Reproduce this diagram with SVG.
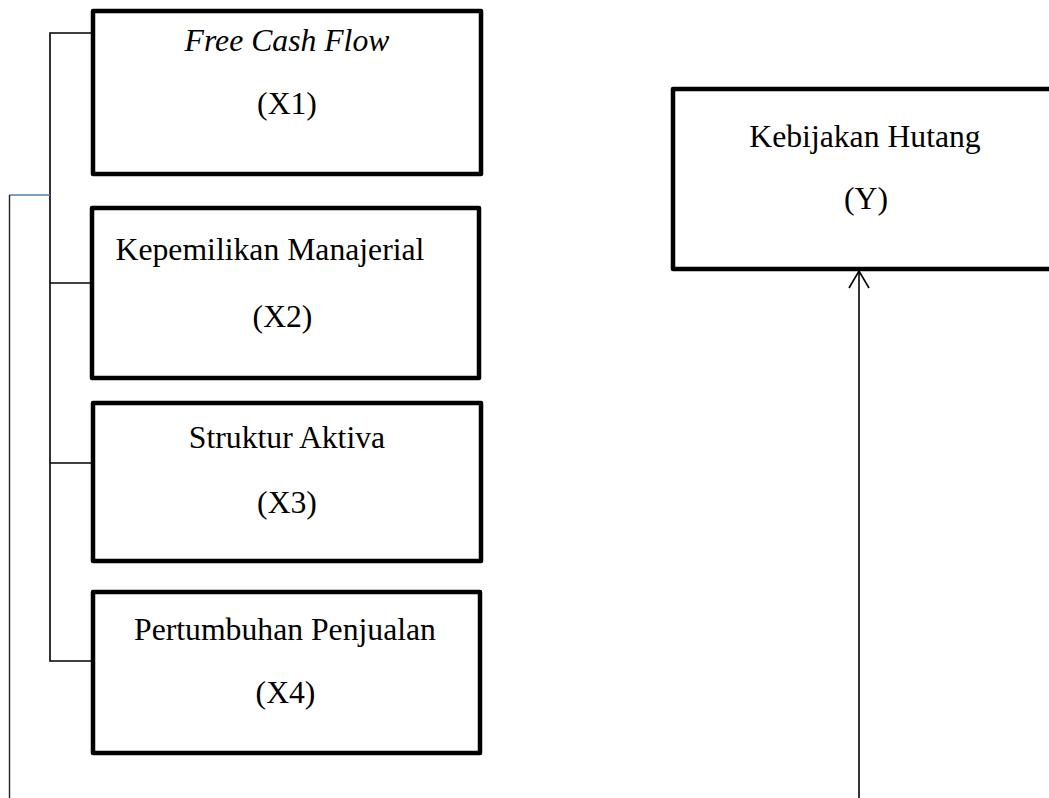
<svg xmlns="http://www.w3.org/2000/svg" width="1049" height="798" viewBox="0 0 1049 798">
<style>
.box{fill:#fff;stroke:#000;stroke-width:4.5;stroke-linejoin:round}
.t{font-family:"Liberation Serif","Times New Roman",serif;font-size:31.7px;fill:#000;text-anchor:middle}
.i{font-style:italic}
.c{fill:none;stroke:#000;stroke-width:1.6}
</style>
<rect width="1049" height="798" fill="#fff"/>
<g id="connectors">
<polyline class="c" points="93,33 50,33 50,661 93,661"/>
<line class="c" x1="50" y1="283" x2="92" y2="283"/>
<line class="c" x1="50" y1="463" x2="93" y2="463"/>
<line x1="50" y1="195" x2="9.5" y2="195" stroke="#4a7ebb" stroke-width="1.6"/>
<line x1="9.5" y1="195" x2="9.5" y2="798" stroke="#222" stroke-width="1.4"/>
<line class="c" x1="859" y1="798" x2="859" y2="272"/>
<polyline class="c" points="849,288 859,271 869,288"/>
</g>
<g id="x1">
<rect class="box" x="93" y="11" width="388" height="163"/>
<text class="t i" x="287" y="51">Free Cash Flow</text>
<text class="t" x="287" y="114">(X1)</text>
</g>
<g id="x2">
<rect class="box" x="92" y="208" width="387" height="170"/>
<text class="t" x="270" y="260">Kepemilikan Manajerial</text>
<text class="t" x="282.5" y="327">(X2)</text>
</g>
<g id="x3">
<rect class="box" x="93" y="403" width="388" height="158"/>
<text class="t" x="287" y="448">Struktur Aktiva</text>
<text class="t" x="287" y="513">(X3)</text>
</g>
<g id="x4">
<rect class="box" x="93" y="592" width="387" height="161"/>
<text class="t" x="285" y="640">Pertumbuhan Penjualan</text>
<text class="t" x="285.5" y="703">(X4)</text>
</g>
<g id="y">
<rect class="box" x="673" y="89" width="388" height="180"/>
<text class="t" x="865" y="147">Kebijakan Hutang</text>
<text class="t" x="866" y="209">(Y)</text>
</g>
</svg>
